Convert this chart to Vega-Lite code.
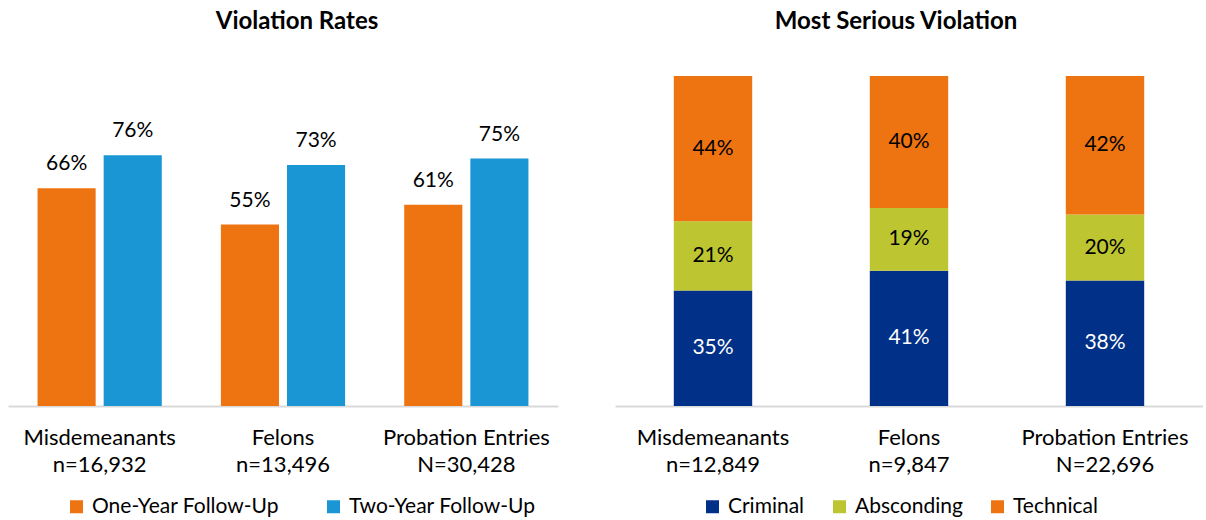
{
  "$schema": "https://vega.github.io/schema/vega-lite/v6.json",
  "background": "white",
  "padding": {"left": 8, "top": 10, "right": 0, "bottom": 0},
  "spacing": 57,
  "config": {"font": "Lato", "view": {"stroke": null}},
  "resolve": {"scale": {"color": "independent"}},
  "hconcat": [
    {
      "width": 550,
      "height": 330,
      "title": {"text": "Violation Rates", "fontSize": 24, "fontWeight": "bold", "offset": 42, "dx": 14, "color": "black"},
      "data": {"values": [
        {"group": "Misdemeanants|n=16,932", "period": "One-Year Follow-Up", "rate": 0.66},
        {"group": "Misdemeanants|n=16,932", "period": "Two-Year Follow-Up", "rate": 0.76},
        {"group": "Felons|n=13,496", "period": "One-Year Follow-Up", "rate": 0.55},
        {"group": "Felons|n=13,496", "period": "Two-Year Follow-Up", "rate": 0.73},
        {"group": "Probation Entries|N=30,428", "period": "One-Year Follow-Up", "rate": 0.61},
        {"group": "Probation Entries|N=30,428", "period": "Two-Year Follow-Up", "rate": 0.75}
      ]},
      "encoding": {
        "x": {"field": "group", "type": "nominal", "sort": null, "title": null,
          "scale": {"paddingInner": 0, "paddingOuter": 0},
          "axis": {"domainColor": "#d9d9d9", "domainWidth": 2, "ticks": false, "labelAngle": 0, "labelFontSize": 22, "labelColor": "#000", "labelPadding": 21, "labelLineHeight": 27, "labelLimit": 0, "labelExpr": "split(datum.label, '|')"}},
        "xOffset": {"field": "period", "type": "nominal", "scale": {"paddingInner": 0.121, "paddingOuter": 0.447}},
        "y": {"field": "rate", "type": "quantitative", "scale": {"domain": [0, 1]}, "axis": null}
      },
      "layer": [
        {"mark": {"type": "bar"},
         "encoding": {"color": {"field": "period", "type": "nominal",
           "scale": {"range": ["#EE7411", "#1B96D4"]},
           "legend": {"orient": "none", "legendX": 58, "legendY": 420, "direction": "horizontal", "title": null, "labelFontSize": 21, "labelColor": "#000", "labelLimit": 0, "symbolType": "square", "symbolSize": 169, "symbolStrokeWidth": 0, "symbolOpacity": 1, "columnPadding": 44, "labelOffset": 5}}}},
        {"mark": {"type": "text", "dy": -24, "fontSize": 21, "color": "#000"},
         "encoding": {"text": {"field": "rate", "type": "quantitative", "format": ".0%"}}}
      ]
    },
    {
      "width": 588,
      "height": 330,
      "title": {"text": "Most Serious Violation", "fontSize": 24, "fontWeight": "bold", "offset": 42, "dx": -13, "color": "black"},
      "data": {"values": [
        {"group": "Misdemeanants|n=12,849", "type": "Criminal", "share": 0.35},
        {"group": "Misdemeanants|n=12,849", "type": "Absconding", "share": 0.21},
        {"group": "Misdemeanants|n=12,849", "type": "Technical", "share": 0.44},
        {"group": "Felons|n=9,847", "type": "Criminal", "share": 0.41},
        {"group": "Felons|n=9,847", "type": "Absconding", "share": 0.19},
        {"group": "Felons|n=9,847", "type": "Technical", "share": 0.40},
        {"group": "Probation Entries|N=22,696", "type": "Criminal", "share": 0.38},
        {"group": "Probation Entries|N=22,696", "type": "Absconding", "share": 0.20},
        {"group": "Probation Entries|N=22,696", "type": "Technical", "share": 0.42}
      ]},
      "transform": [{"calculate": "indexof(['Criminal','Absconding','Technical'], datum.type)", "as": "stackOrder"}],
      "encoding": {
        "x": {"field": "group", "type": "nominal", "sort": null, "title": null,
          "scale": {"paddingInner": 0, "paddingOuter": 0},
          "axis": {"domainColor": "#d9d9d9", "domainWidth": 2, "ticks": false, "labelAngle": 0, "labelFontSize": 22, "labelColor": "#000", "labelPadding": 21, "labelLineHeight": 27, "labelLimit": 0, "labelExpr": "split(datum.label, '|')"}},
        "y": {"field": "share", "type": "quantitative", "stack": "zero", "scale": {"domain": [0, 1]}, "axis": null},
        "order": {"field": "stackOrder", "type": "quantitative", "sort": "ascending"}
      },
      "layer": [
        {"mark": {"type": "bar", "width": {"band": 0.4}},
         "encoding": {"color": {"field": "type", "type": "nominal", "sort": ["Criminal", "Absconding", "Technical"],
           "scale": {"domain": ["Criminal", "Absconding", "Technical"], "range": ["#003087", "#BDC630", "#EE7411"]},
           "legend": {"orient": "none", "legendX": 87, "legendY": 420, "direction": "horizontal", "title": null, "labelFontSize": 21, "labelColor": "#000", "labelLimit": 0, "symbolType": "square", "symbolSize": 169, "symbolStrokeWidth": 0, "symbolOpacity": 1, "columnPadding": 24, "labelOffset": 5}}}},
        {"mark": {"type": "text", "fontSize": 21, "baseline": "middle"},
         "encoding": {
           "y": {"field": "share", "type": "quantitative", "stack": "zero", "bandPosition": 0.5},
           "detail": {"field": "type", "type": "nominal"},
           "text": {"field": "share", "type": "quantitative", "format": ".0%"},
           "color": {"condition": {"test": "datum.type === 'Criminal'", "value": "white"}, "value": "black"}}}
      ]
    }
  ]
}
